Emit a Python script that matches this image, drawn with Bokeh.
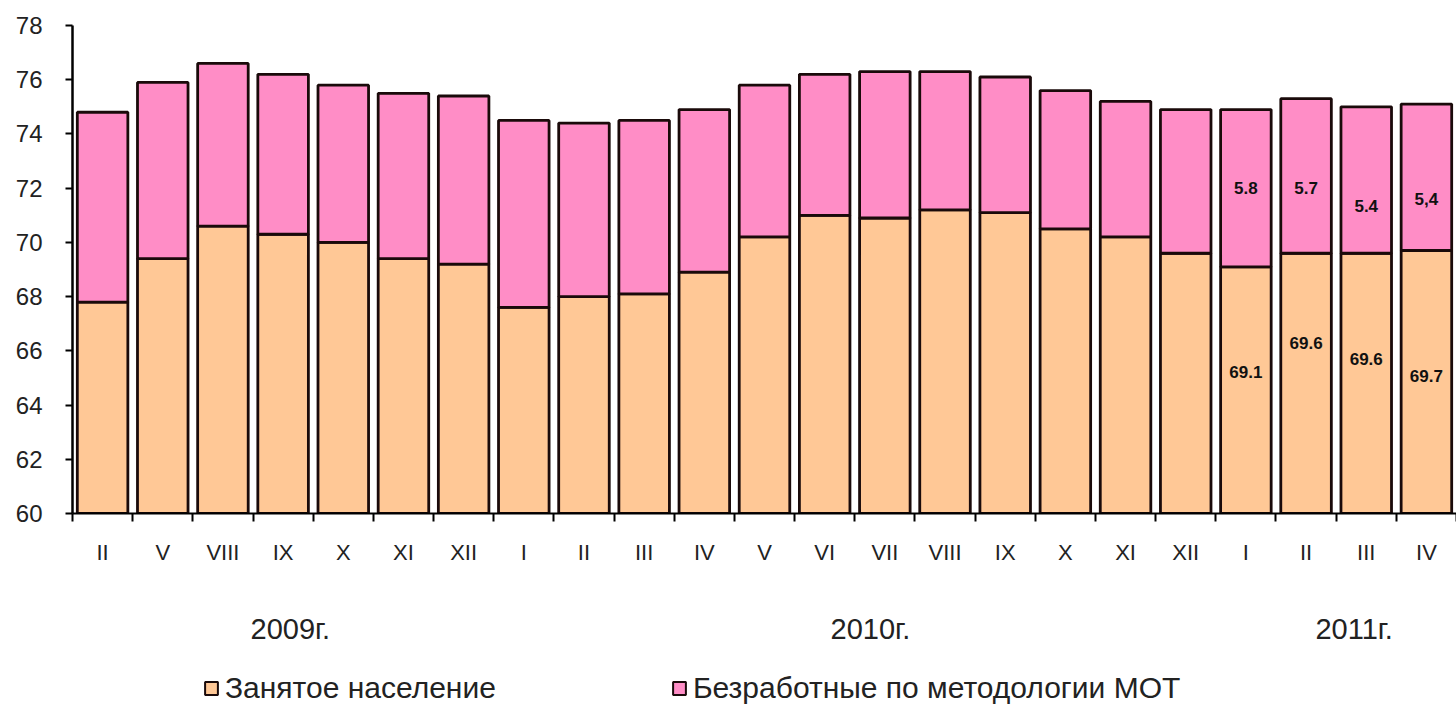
from bokeh.plotting import figure
from bokeh.models import (ColumnDataSource, FixedTicker, Legend, LegendItem, LinearAxis)
from bokeh.layouts import column
from bokeh.core.properties import value
from bokeh.embed import file_html
from bokeh.resources import INLINE

# ---------------- data ----------------
months = ["II", "V", "VIII", "IX", "X", "XI", "XII",
          "I", "II", "III", "IV", "V", "VI", "VII", "VIII", "IX", "X", "XI", "XII",
          "I", "II", "III", "IV"]
employed = [67.8, 69.4, 70.6, 70.3, 70.0, 69.4, 69.2,
            67.6, 68.0, 68.1, 68.9, 70.2, 71.0, 70.9, 71.2, 71.1, 70.5, 70.2, 69.6,
            69.1, 69.6, 69.6, 69.7]
unemployed = [7.0, 6.5, 6.0, 5.9, 5.8, 6.1, 6.2,
              6.9, 6.4, 6.4, 6.0, 5.6, 5.2, 5.4, 5.1, 5.0, 5.1, 5.0, 5.3,
              5.8, 5.7, 5.4, 5.4]
years = ["2009г.", "2010г.", "2011г."]
series_names = ["Занятое население", "Безработные по методологии МОТ"]
lab_idx = [19, 20, 21, 22]
lab_unemp = ["5.8", "5.7", "5.4", "5,4"]
lab_emp = ["69.1", "69.6", "69.6", "69.7"]

# ---------------- styling ----------------
FONT = "Liberation Sans"
C_EMP = "#FFC896"
C_UNEMP = "#FF8DC6"
C_LINE = "#1a0a0a"
YEAR_POS = [3.62, 13.26, 21.3]
# tiny stand-in glyphs for the legend, hidden beneath the legend swatches
SWATCH_X = [0.1004, 0.44]
SWATCH_Y = 0.29

n = len(months)
x = [i + 0.5 for i in range(n)]
base = [60.0] * n
top_all = [e + u for e, u in zip(employed, unemployed)]

src = ColumnDataSource(dict(x=x, base=base, emp=employed, tot=top_all))

p = figure(width=1456, height=650, x_range=(0, n), y_range=(60, 78),
           output_backend="svg", toolbar_location=None,
           min_border_left=72, min_border_right=0, min_border_top=25,
           min_border_bottom=137)
p.outline_line_color = None
p.xgrid.visible = False
p.ygrid.visible = False
p.background_fill_color = "white"
p.border_fill_color = "white"

p.vbar(x="x", bottom="base", top="emp", width=0.84, source=src,
       fill_color=C_EMP, line_color=C_LINE, line_width=2.8)
p.vbar(x="x", bottom="emp", top="tot", width=0.84, source=src,
       fill_color=C_UNEMP, line_color=C_LINE, line_width=2.8)

# y axis
ya = p.yaxis[0]
ya.ticker = FixedTicker(ticks=list(range(60, 79, 2)))
ya.axis_line_color = "black"
ya.axis_line_width = 2.5
ya.major_tick_line_color = "black"
ya.major_tick_line_width = 2
ya.major_tick_out = 7
ya.major_tick_in = 0
ya.minor_tick_line_color = None
ya.major_label_standoff = 23
ya.major_label_text_font = FONT
ya.major_label_text_font_size = "24px"
ya.major_label_text_color = "#222222"

# x axis (months)
xa = p.xaxis[0]
xa.ticker = FixedTicker(ticks=x, minor_ticks=list(range(0, n + 1)))
xa.major_label_overrides = {xi: m for xi, m in zip(x, months)}
xa.axis_line_color = "black"
xa.axis_line_width = 2
xa.major_tick_line_color = None
xa.major_tick_out = 0
xa.major_tick_in = 0
xa.minor_tick_line_color = "black"
xa.minor_tick_line_width = 2
xa.minor_tick_out = 8
xa.minor_tick_in = 0
xa.major_label_standoff = 18
xa.major_label_text_font = FONT
xa.major_label_text_font_size = "22px"
xa.major_label_text_color = "#222222"

# year axis
year_axis = LinearAxis(ticker=FixedTicker(ticks=YEAR_POS, minor_ticks=[]),
                       major_label_overrides={v: t for v, t in zip(YEAR_POS, years)},
                       axis_line_color=None, major_tick_line_color=None,
                       minor_tick_line_color=None, major_tick_out=0, major_tick_in=0,
                       major_label_standoff=45, major_label_text_font=FONT,
                       major_label_text_font_size="29px",
                       major_label_text_color="#222222")
p.add_layout(year_axis, "below")

# data labels (last four bars)
lx = [x[i] for i in lab_idx]
ly_un = [employed[i] + unemployed[i] / 2 for i in lab_idx]
ly_em = [60 + (employed[i] - 60) / 2 for i in lab_idx]
p.text(x=lx, y=ly_un, text=lab_unemp, text_font=value(FONT),
       text_font_size="17px", text_font_style="bold", text_color="#111111",
       text_align="center", text_baseline="middle",
       y_offset=[0, 12, 26, 22])
p.text(x=lx, y=ly_em, text=lab_emp, text_font=value(FONT),
       text_font_size="17px", text_font_style="bold", text_color="#111111",
       text_align="center", text_baseline="middle",
       y_offset=[-18, -40, -24, -6])

# legend strip (separate figure below the chart)
pl = figure(width=1456, height=55, x_range=(0, 1), y_range=(0, 1),
            output_backend="svg", toolbar_location=None,
            x_axis_type=None, y_axis_type=None, min_border=0)
pl.outline_line_color = None
pl.xgrid.visible = False
pl.ygrid.visible = False
l_emp = pl.vbar(x=[SWATCH_X[0]], top=[SWATCH_Y + 0.02], bottom=[SWATCH_Y - 0.02],
                width=0.002, fill_color=C_EMP, line_color=C_EMP, line_width=1)
l_un = pl.vbar(x=[SWATCH_X[1]], top=[SWATCH_Y + 0.02], bottom=[SWATCH_Y - 0.02],
               width=0.002, fill_color=C_UNEMP, line_color=C_UNEMP, line_width=1)
l_emp.glyph.line_color = C_LINE
l_emp.glyph.line_width = 2
l_un.glyph.line_color = C_LINE
l_un.glyph.line_width = 2
legend = Legend(items=[LegendItem(label=series_names[0], renderers=[l_emp]),
                       LegendItem(label=series_names[1], renderers=[l_un])],
                orientation="horizontal", location=(131, 0),
                label_text_font=FONT, label_text_font_size="30px",
                label_text_color="#222222",
                glyph_width=16, glyph_height=16, label_standoff=6,
                spacing=175, padding=0, margin=0,
                border_line_color=None, background_fill_alpha=0)
pl.add_layout(legend, "center")

layout = column(p, pl, spacing=0)
open("out.html", "w").write(file_html(layout, INLINE))
